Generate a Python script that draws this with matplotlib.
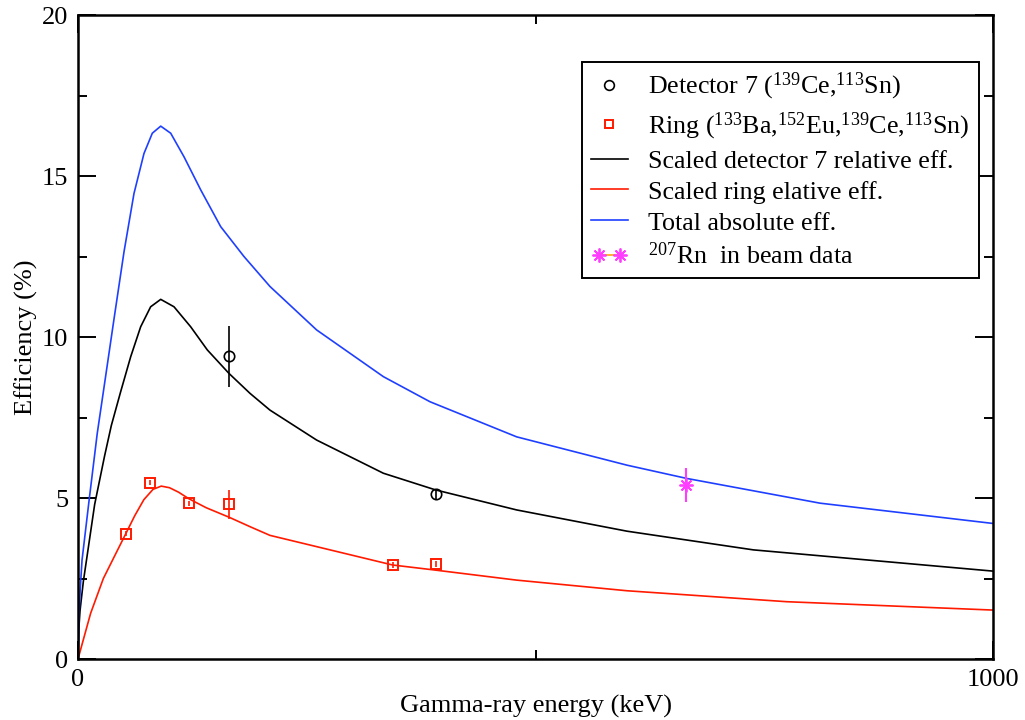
import numpy as np
import matplotlib
matplotlib.use('Agg')
from matplotlib import pyplot as plt
from matplotlib.lines import Line2D
from matplotlib.legend_handler import HandlerLine2D

plt.rcParams['font.family'] = ['Liberation Serif', 'DejaVu Serif']
plt.rcParams['mathtext.default'] = 'regular'
plt.rcParams['font.size'] = 19

# detector 7 source points
det_e = [165, 391]
det_eff = [9.40, 5.12]
det_err = [0.95, 0.15]

# ring source points
ring_e = [52, 79, 121, 165, 344, 391]
ring_eff = [3.89, 5.47, 4.84, 4.81, 2.92, 2.95]
ring_err = [0.08, 0.08, 0.08, 0.45, 0.08, 0.08]

# in-beam point
rn_e = [665]
rn_eff = [5.40]
rn_err = [0.52]

# curves
blue_e = [0, 1, 2.5, 4.4, 12, 21, 29, 39.3, 50.3, 61.2, 72.1, 81.2, 90.4,
          101.3, 115.8, 134.1, 155.9, 181.4, 209.8, 260.8, 333.7, 384.7,
          479.4, 600, 665, 811, 1000]
blue_eff = [0, 1.3, 2.2, 3.07, 4.9, 7.0, 8.55, 10.55, 12.65, 14.46, 15.70,
            16.33, 16.55, 16.33, 15.60, 14.57, 13.43, 12.50, 11.57, 10.22,
            8.77, 7.99, 6.90, 6.02, 5.61, 4.84, 4.21]

black_e = [0, 0.8, 2.2, 5.8, 18.2, 29, 36.4, 46.6, 57.6, 68.5, 79.4, 90.4,
           104.9, 123.1, 141.3, 165, 188, 209.8, 260.8, 333.7, 391, 479.4,
           600, 738, 1000]
black_eff = [0, 0.9, 1.5, 2.4, 4.8, 6.3, 7.25, 8.3, 9.39, 10.32, 10.94,
             11.17, 10.94, 10.32, 9.60, 8.87, 8.25, 7.73, 6.80, 5.77, 5.25,
             4.63, 3.97, 3.39, 2.73]

red_e = [0, 13.8, 27.7, 40, 52, 62, 72, 82, 91, 100, 110, 121, 140, 165.4,
         188, 209.8, 260.8, 343.8, 391, 479.4, 600, 774.5, 1000]
red_eff = [0, 1.42, 2.5, 3.2, 3.88, 4.45, 4.95, 5.27, 5.37, 5.32, 5.18,
           4.98, 4.7, 4.40, 4.11, 3.84, 3.49, 2.92, 2.76, 2.45, 2.12, 1.78,
           1.52]

RED = '#ff1a00'
BLUE = '#1f3fff'
MAG = '#ff3cff'
STAR = (8, 2, 0)

fig = plt.figure(figsize=(10.25, 7.2), dpi=100)
ax = fig.add_axes([0.0761, 0.0847, 0.8927, 0.8944])

ax.plot(black_e, black_eff, color='black', lw=1.2)
ax.plot(red_e, red_eff, color=RED, lw=1.2)
ax.plot(blue_e, blue_eff, color=BLUE, lw=1.2)

ax.errorbar(det_e, det_eff, yerr=det_err, fmt='o', mfc='none', mec='black',
            ecolor='black', ms=7.5, mew=1.2, elinewidth=1.2, capsize=0)
ax.errorbar(ring_e, ring_eff, yerr=ring_err, fmt='s', mfc='none', mec=RED,
            ecolor=RED, ms=6.5, mew=1.4, elinewidth=1.2, capsize=0)
ax.errorbar(rn_e, rn_eff, yerr=rn_err, fmt='none', ecolor=MAG,
            elinewidth=1.5, capsize=0)
ax.plot(rn_e, rn_eff, ls='none', marker=STAR, mec=MAG, mfc=MAG, ms=10, mew=1.3)

ax.set_xlim(0, 1000)
ax.set_ylim(0, 20)
ax.set_xticks([0, 1000])
ax.set_xticks([500], minor=True)
ax.set_yticks([0, 5, 10, 15, 20])
ax.set_yticks([2.5, 7.5, 12.5, 17.5], minor=True)
ax.tick_params(which='both', direction='in', top=True, right=True, width=1.4)
ax.tick_params(which='major', length=13, pad=7)
ax.tick_params(which='minor', length=6.5)
for s in ax.spines.values():
    s.set_linewidth(1.8)

ax.set_xlabel('Gamma-ray energy (keV)', labelpad=3)
ax.set_ylabel('Efficiency (%)', labelpad=3)

handles = [
    Line2D([], [], ls='none', marker='o', mfc='none', mec='black', ms=7, mew=1.2),
    Line2D([], [], ls='none', marker='s', mfc='none', mec=RED, ms=6, mew=1.4),
    Line2D([], [], color='black', lw=1.2),
    Line2D([], [], color=RED, lw=1.2),
    Line2D([], [], color=BLUE, lw=1.2),
    Line2D([0, 1], [0, 0], color='#ffa500', lw=1.2, marker=STAR, mfc=MAG,
           mec=MAG, ms=10, mew=1.3),
]
labels = [
    'Detector 7 ($^{139}$Ce,$^{113}$Sn)',
    'Ring ($^{133}$Ba,$^{152}$Eu,$^{139}$Ce,$^{113}$Sn)',
    'Scaled detector 7 relative eff.',
    'Scaled ring elative eff.',
    'Total absolute eff.',
    '$^{207}$Rn  in beam data',
]
leg = ax.legend(handles, labels, loc='upper left', bbox_to_anchor=(0.551, 0.927),
                borderaxespad=0, fancybox=False, framealpha=1, edgecolor='black',
                handlelength=1.4, handletextpad=0.8, borderpad=0.35,
                labelspacing=0.3, numpoints=1, fontsize=18.7,
                handler_map={handles[5]: HandlerLine2D(numpoints=2)})
leg.get_frame().set_linewidth(1.4)

fig.savefig('out.png', dpi=100)
